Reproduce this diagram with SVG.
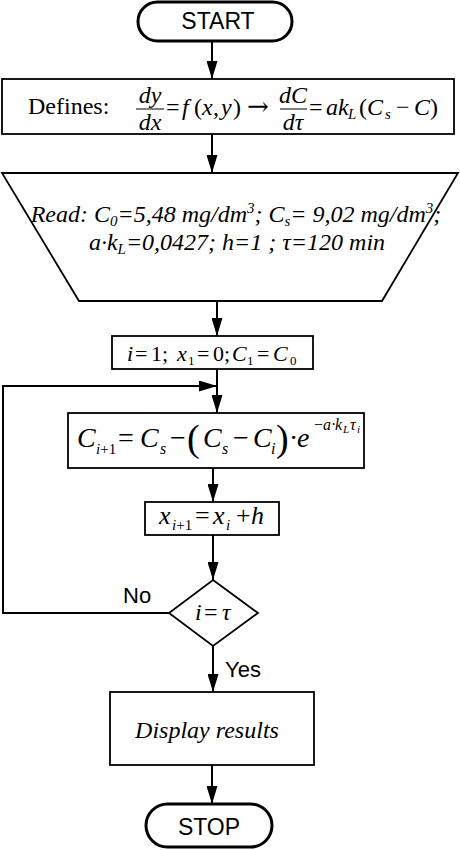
<svg xmlns="http://www.w3.org/2000/svg" width="460" height="850" viewBox="0 0 460 850">
<style>
.box{fill:#fff;stroke:#000;stroke-width:1.8}
.term{fill:#fff;stroke:#000;stroke-width:3}
.con{fill:none;stroke:#000;stroke-width:2}
.sans{font-family:"Liberation Sans",Arial,sans-serif;fill:#000}
.ser{font-family:"Liberation Serif","Times New Roman",serif;fill:#000}
.it{font-style:italic}
.bar{stroke:#000;stroke-width:1}
</style>
<defs>
<marker id="ah" markerUnits="userSpaceOnUse" markerWidth="18" markerHeight="11" refX="18" refY="5.5" orient="auto">
<path d="M0,0 L18,5.5 L0,11 z" fill="#000"/>
</marker>
</defs>
<rect width="460" height="850" fill="#fff"/>
<g id="connectors">
<line class="con" x1="212" y1="42" x2="212" y2="79" marker-end="url(#ah)"/>
<line class="con" x1="212" y1="134" x2="212" y2="173" marker-end="url(#ah)"/>
<line class="con" x1="217" y1="301" x2="217" y2="336" marker-end="url(#ah)"/>
<line class="con" x1="217" y1="369" x2="217" y2="413" marker-end="url(#ah)"/>
<polyline class="con" points="169,613 3,613 3,386 217,386" marker-end="url(#ah)"/>
<line class="con" x1="213" y1="468" x2="213" y2="502" marker-end="url(#ah)"/>
<line class="con" x1="213" y1="535" x2="213" y2="580" marker-end="url(#ah)"/>
<line class="con" x1="213" y1="646" x2="213" y2="692" marker-end="url(#ah)"/>
<line class="con" x1="212" y1="765" x2="212" y2="804" marker-end="url(#ah)"/>
<text class="sans" font-size="22" x="123" y="603">No</text>
<text class="sans" font-size="22" x="225" y="677">Yes</text>
</g>
<g id="start">
<rect class="term" x="138" y="2" width="154" height="39" rx="19.5"/>
<text class="sans" font-size="23" x="218" y="29" text-anchor="middle">START</text>
</g>
<g id="defines">
<rect class="box" x="2" y="79" width="452" height="55"/>
<text class="ser" font-size="24" x="28" y="114">Defines:</text>
<text class="ser it" font-size="24" x="150" y="103" text-anchor="middle">dy</text>
<line class="bar" x1="136" y1="109" x2="164" y2="109"/>
<text class="ser it" font-size="24" x="150" y="130" text-anchor="middle">dx</text>
<text class="ser" font-size="24" y="115"><tspan x="166">=</tspan><tspan x="182" class="it">f</tspan><tspan x="194">(</tspan><tspan x="202" class="it">x</tspan><tspan x="213">,</tspan><tspan x="221" class="it">y</tspan><tspan x="233">)</tspan><tspan x="247" font-family="'DejaVu Serif',serif" font-size="26">→</tspan></text>
<text class="ser it" font-size="24" x="293" y="103" text-anchor="middle">dC</text>
<line class="bar" x1="280" y1="109" x2="307" y2="109"/>
<text class="ser it" font-size="24" x="293" y="130" text-anchor="middle">dτ</text>
<text class="ser" font-size="24" y="115"><tspan x="309">=</tspan><tspan x="326" class="it">ak</tspan><tspan x="348" y="119" class="it" font-size="15">L</tspan><tspan x="359" y="115">(</tspan><tspan x="367" class="it">C</tspan><tspan x="385" y="119" class="it" font-size="15">s</tspan><tspan x="396" y="115">−</tspan><tspan x="414" class="it">C</tspan><tspan x="430">)</tspan></text>
</g>
<g id="read">
<polygon class="box" points="2,173 458,173 382,301 79,301"/>
<text class="ser it" font-size="24" x="236" y="222" text-anchor="middle">Read: C<tspan font-size="15" dy="4">0</tspan><tspan dy="-4">=5,48 mg/dm</tspan><tspan font-size="15" dy="-9">3</tspan><tspan dy="9">; C</tspan><tspan font-size="15" dy="4">s</tspan><tspan dy="-4">= 9,02 mg/dm</tspan><tspan font-size="15" dy="-9">3</tspan><tspan dy="9">;</tspan></text>
<text class="ser it" font-size="24" x="237" y="250" text-anchor="middle">a·k<tspan font-size="15" dy="4">L</tspan><tspan dy="-4">=0,0427; h=1 ; τ=120 min</tspan></text>
</g>
<g id="init">
<rect class="box" x="112" y="336" width="201" height="33"/>
<text class="ser" font-size="22" y="361"><tspan x="127" class="it">i</tspan><tspan x="135">=</tspan><tspan x="151">1;</tspan><tspan x="177" class="it">x</tspan><tspan x="188" y="365" font-size="13">1</tspan><tspan x="197" y="361">=</tspan><tspan x="213">0;</tspan><tspan x="232" class="it">C</tspan><tspan x="247" y="365" font-size="13">1</tspan><tspan x="257" y="361">=</tspan><tspan x="273" class="it">C</tspan><tspan x="290" y="365" font-size="13">0</tspan></text>
</g>
<g id="calc">
<rect class="box" x="68" y="413" width="296" height="55"/>
<text class="ser" font-size="28" y="447"><tspan x="77" class="it">C</tspan><tspan x="96" y="454" font-size="15"><tspan class="it">i</tspan>+1</tspan><tspan x="118" y="447">=</tspan><tspan x="140" class="it">C</tspan><tspan x="160" y="454" class="it" font-size="16">s</tspan><tspan x="170" y="447">−</tspan><tspan x="187" y="451" font-size="38">(</tspan><tspan x="203" y="447" class="it">C</tspan><tspan x="222" y="454" class="it" font-size="16">s</tspan><tspan x="233" y="447">−</tspan><tspan x="253" class="it">C</tspan><tspan x="271" y="454" class="it" font-size="16">i</tspan><tspan x="276" y="451" font-size="38">)</tspan><tspan x="289" y="447">·</tspan><tspan x="297" class="it">e</tspan><tspan x="314" y="430" font-size="16">−</tspan><tspan x="323" class="it" font-size="16">a</tspan><tspan x="331" font-size="16">·</tspan><tspan x="335" class="it" font-size="16">k</tspan><tspan x="343" y="433" class="it" font-size="11">L</tspan><tspan x="350" y="430" class="it" font-size="16">τ</tspan><tspan x="357" y="433" class="it" font-size="11">i</tspan></text>
</g>
<g id="incr">
<rect class="box" x="145" y="502" width="134" height="33"/>
<text class="ser" font-size="26" y="524"><tspan x="159" class="it">x</tspan><tspan x="172" y="530" font-size="15"><tspan class="it">i</tspan>+1</tspan><tspan x="195" y="524">=</tspan><tspan x="213" class="it">x</tspan><tspan x="226" y="530" class="it" font-size="15">i</tspan><tspan x="236" y="524">+</tspan><tspan x="251" class="it">h</tspan></text>
</g>
<g id="decision">
<polygon class="box" points="213,580 258,613 213,646 169,613"/>
<text class="ser" font-size="24" y="620"><tspan x="195" class="it">i</tspan><tspan x="204">=</tspan><tspan x="222" class="it">τ</tspan></text>
</g>
<g id="display">
<rect class="box" x="110" y="692" width="204" height="73"/>
<text class="ser it" font-size="24" x="207" y="738" text-anchor="middle">Display results</text>
</g>
<g id="stop">
<rect class="term" x="146" y="804" width="126" height="43" rx="21.5"/>
<text class="sans" font-size="23" x="209" y="835" text-anchor="middle">STOP</text>
</g>
</svg>
